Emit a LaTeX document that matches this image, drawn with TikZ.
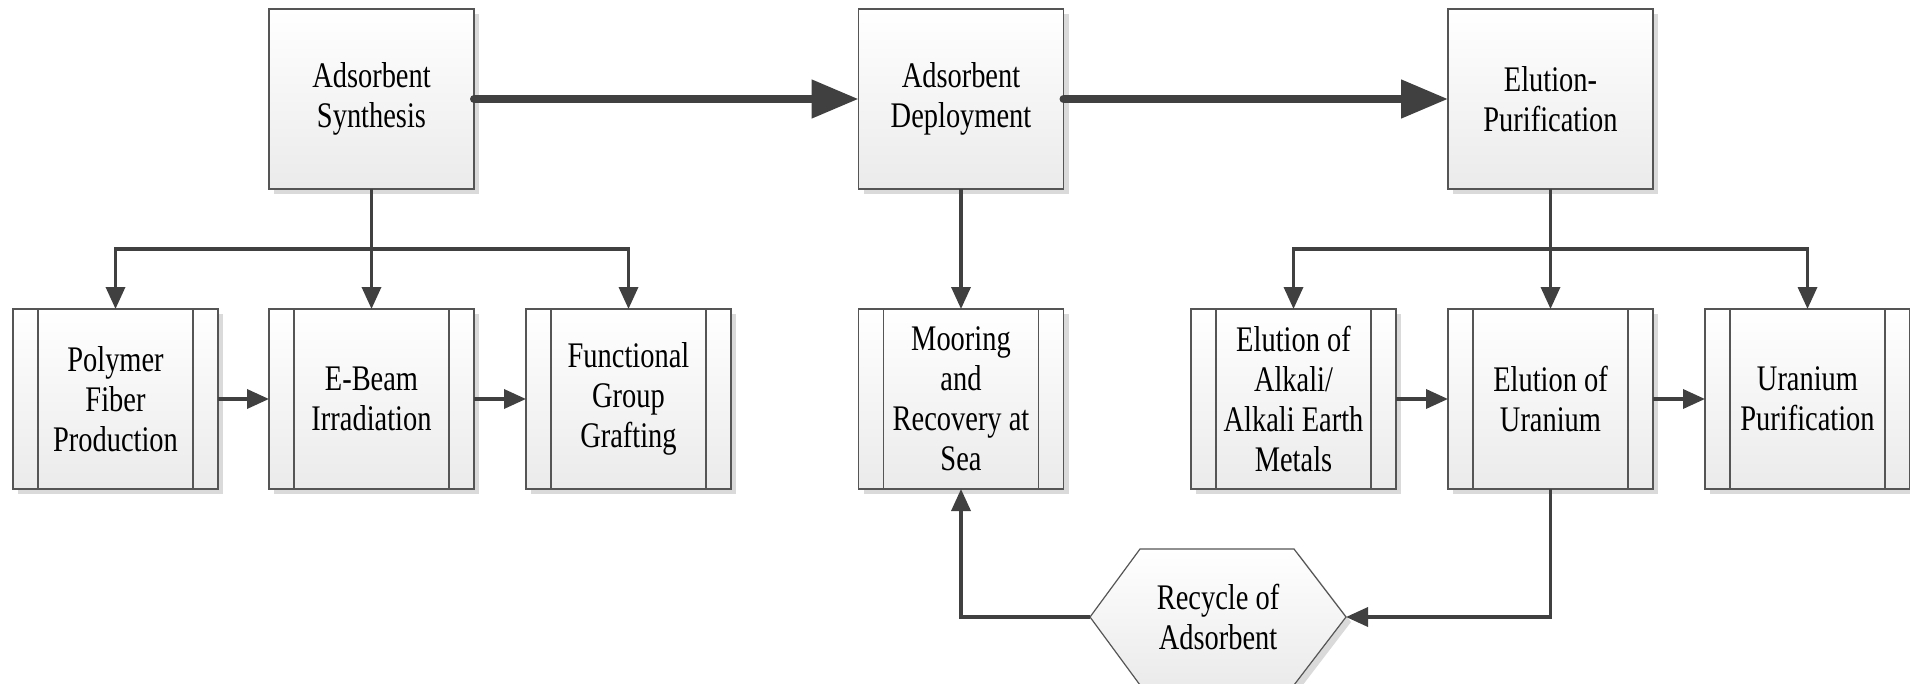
\documentclass[tikz,border=0pt]{standalone}
\usepackage{fontspec}
\setmainfont[FakeStretch=0.79]{Liberation Serif}
\usetikzlibrary{arrows.meta,shadows,calc}
\definecolor{conn}{RGB}{64,64,64}
\definecolor{edgec}{RGB}{85,85,85}
\definecolor{shadec}{RGB}{218,218,218}
\tikzset{
 box/.style={draw=edgec, line width=0.6pt, top color=white, bottom color=black!8,
   minimum width=102.5pt, minimum height=90pt, inner sep=0pt, outer sep=0pt,
   align=center, font=\fontsize{18}{20}\selectfont,
   drop shadow={shadow xshift=2.5pt, shadow yshift=-2.5pt, fill=shadec, opacity=1}},
 procbox/.style={box, path picture={
   \draw[edgec, line width=0.6pt]
     ([xshift=12.5pt]path picture bounding box.north west) -- ([xshift=12.5pt]path picture bounding box.south west)
     ([xshift=-12.5pt]path picture bounding box.north east) -- ([xshift=-12.5pt]path picture bounding box.south east);}},
 arr/.style={draw=conn, line width=1.75pt, -{Triangle[length=11pt,width=9.5pt]}},
 plain/.style={draw=conn, line width=1.75pt},
 bigarr/.style={draw=conn, line width=4pt, line cap=round, -{Triangle[length=23.5pt,width=18.5pt]}},
 hextext/.style={align=center, font=\fontsize{18}{20}\selectfont, inner sep=0pt},
}
\begin{document}
\begin{tikzpicture}[x=0.5pt,y=-0.5pt]
\useasboundingbox (0,0) rectangle (1910,684);
% top row
\node[box] (syn) at (371.5,99) {Adsorbent\\Synthesis};
\node[box] (dep) at (961,99) {Adsorbent\\Deployment};
\node[box] (elu) at (1550.5,99) {Elution-\\Purification};
% bottom row
\node[procbox] (poly) at (115.5,399) {Polymer\\Fiber\\Production};
\node[procbox] (ebeam) at (371.5,399) {E-Beam\\Irradiation};
\node[procbox] (func) at (628.5,399) {Functional\\Group\\Grafting};
\node[procbox] (moor) at (961,399) {Mooring\\and\\Recovery at\\Sea};
\node[procbox] (alk) at (1293.5,399) {Elution of\\Alkali/\\Alkali Earth\\Metals};
\node[procbox] (euran) at (1550.5,399) {Elution of\\Uranium};
\node[procbox] (upur) at (1807.5,399) {Uranium\\Purification};
% hexagon
\path[draw=edgec, line width=0.6pt, top color=white, bottom color=black!8,
  drop shadow={shadow xshift=2.5pt, shadow yshift=-2.5pt, fill=shadec, opacity=1}]
  (1090,617) -- (1140,549) -- (1294,549) -- (1346,617) -- (1294,685) -- (1140,685) -- cycle;
\node[hextext] (hex) at (1218,617) {Recycle of\\Adsorbent};
\coordinate (hexL) at (1090,617);
\coordinate (hexR) at (1346,617);
% junctions
\coordinate (j1) at (371.5,249);
\coordinate (j2) at (1550.5,249);
% thick arrows
\draw[bigarr] (syn.east) -- (dep.west);
\draw[bigarr] (dep.east) -- (elu.west);
% left tree
\draw[arr] (syn.south) -- (ebeam.north);
\draw[arr] (j1) -| (poly.north);
\draw[arr] (j1) -| (func.north);
% right tree
\draw[arr] (elu.south) -- (euran.north);
\draw[arr] (j2) -| (alk.north);
\draw[arr] (j2) -| (upur.north);
% deployment
\draw[arr] (dep.south) -- (moor.north);
% horizontal
\draw[arr] (poly.east) -- (ebeam.west);
\draw[arr] (ebeam.east) -- (func.west);
\draw[arr] (alk.east) -- (euran.west);
\draw[arr] (euran.east) -- (upur.west);
% recycle loop
\draw[arr] (euran.south) |- (hexR);
\draw[arr] (hexL) -| (moor.south);
\end{tikzpicture}
\end{document}
